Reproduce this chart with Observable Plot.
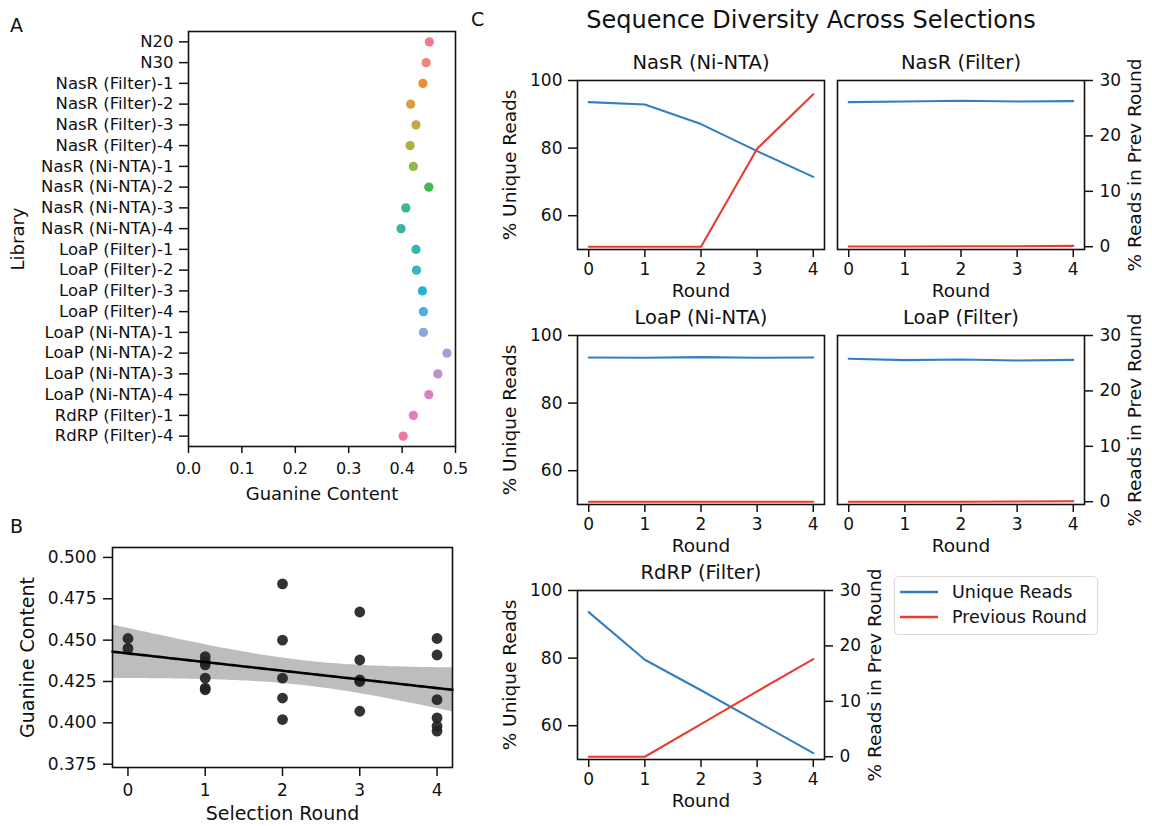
<!DOCTYPE html>
<html><head><meta charset="utf-8">
<script src="https://cdn.jsdelivr.net/npm/d3@7"></script>
<script src="https://cdn.jsdelivr.net/npm/@observablehq/plot@0.6"></script>
<style>
body{margin:0;background:#fff;}
#fig{position:relative;width:1152px;height:826px;overflow:hidden;background:#fff;font-family:"DejaVu Sans",sans-serif;color:#111;}
#fig svg{position:absolute;overflow:visible;max-width:none;}
.letter{position:absolute;font-size:19px;line-height:1;}
.suptitle{position:absolute;font-size:24px;line-height:1;white-space:nowrap;transform:translateX(-50%);}
</style></head><body><div id="fig"></div>
<script>
// ---------- Panel A data ----------
const libraries = ["N20","N30","NasR (Filter)-1","NasR (Filter)-2","NasR (Filter)-3","NasR (Filter)-4",
  "NasR (Ni-NTA)-1","NasR (Ni-NTA)-2","NasR (Ni-NTA)-3","NasR (Ni-NTA)-4",
  "LoaP (Filter)-1","LoaP (Filter)-2","LoaP (Filter)-3","LoaP (Filter)-4",
  "LoaP (Ni-NTA)-1","LoaP (Ni-NTA)-2","LoaP (Ni-NTA)-3","LoaP (Ni-NTA)-4",
  "RdRP (Filter)-1","RdRP (Filter)-4"];
const guanine = [0.451,0.445,0.439,0.416,0.426,0.415,0.421,0.450,0.407,0.398,
  0.426,0.427,0.438,0.440,0.440,0.484,0.467,0.450,0.421,0.402];
const libColors = ["#f27a8e","#f08777","#eb8e36","#d5a03e","#c2a843","#abb042","#8fb845","#3fba4c","#3fb887","#35b4a2",
  "#37b4ae","#3ab3bc","#27b4d4","#4cade8","#8fa6da","#ab9bd8","#c390cd","#d382c4","#e87bbd","#f175a6"];
const xTicksA = [0,0.1,0.2,0.3,0.4,0.5];

// ---------- Panel B data ----------
const roundB = [0,0, 1,1,1,1,1,1, 2,2,2,2,2, 3,3,3,3,3, 4,4,4,4,4,4];
const guanineB = [0.451,0.445, 0.440,0.437,0.435,0.427,0.421,0.420, 0.484,0.450,0.427,0.415,0.402,
  0.467,0.438,0.426,0.425,0.407, 0.451,0.441,0.414,0.403,0.398,0.395];
const yTicksB = [0.375,0.400,0.425,0.450,0.475,0.500];
const xTicksB = [0,1,2,3,4];

// ---------- Panel C data ----------
const rounds = [0,1,2,3,4];
const uniqueNasRNiNTA = [93.6,92.9,87.1,79.1,71.5];
const prevNasRNiNTA   = [0,0,0,17.7,27.5];
const uniqueNasRFilter = [93.6,93.8,94.0,93.8,93.9];
const prevNasRFilter   = [0.05,0.05,0.1,0.1,0.15];
const uniqueLoaPNiNTA = [93.5,93.4,93.6,93.4,93.5];
const prevLoaPNiNTA   = [0,0,0,0,0];
const uniqueLoaPFilter = [93.1,92.7,92.9,92.6,92.8];
const prevLoaPFilter   = [0,0,0,0.05,0.1];
const uniqueRdRPFilter = [93.6,79.5,70.5,61.2,51.9];
const prevRdRPFilter   = [0,0,5.9,11.8,17.6];
const leftTicksC = [60,80,100];
const rightTicksC = [0,10,20,30];

const FONT = "DejaVu Sans";
const BLUE = "#337fc1", RED = "#ec3a2e";
const fig = document.getElementById("fig");
function place(svg, left, top){ svg.style.left = left+"px"; svg.style.top = top+"px"; fig.appendChild(svg); }
function addDiv(cls, text, left, top){ const d=document.createElement("div"); d.className=cls; d.textContent=text; d.style.left=left+"px"; d.style.top=top+"px"; fig.appendChild(d); }

// ---------- Panel A ----------
{
  const W=470,H=510;
  const svg = Plot.plot({
    width:W, height:H, marginLeft:188, marginRight:15, marginTop:31, marginBottom:64,
    style:{background:"transparent", fontFamily:FONT, fontSize:"16px", color:"#111"},
    x:{domain:[0,0.5], axis:null},
    y:{type:"point", domain:libraries, padding:0.5, round:false, axis:null},
    color:{type:"identity"},
    marks:[
      Plot.dot(libraries,{x:guanine, y:libraries, fill:libColors, r:4.6}),
      Plot.frame({stroke:"#111", strokeWidth:1.6}),
      Plot.axisX({ticks:xTicksA, tickFormat:d3.format(".1f"), tickSize:7, tickPadding:9, fontSize:16, strokeWidth:1.5, label:null}),
      Plot.axisY({tickSize:9, tickPadding:6, fontSize:16.5, strokeWidth:1.5, label:null}),
      Plot.text(["Guanine Content"],{frameAnchor:"bottom", dy:48, fontSize:18, lineAnchor:"middle"}),
      Plot.text(["Library"],{frameAnchor:"left", dx:-170, rotate:-90, fontSize:18, textAnchor:"middle", lineAnchor:"middle"})
    ]
  });
  place(svg,0,0);
}

// ---------- Panel B ----------
{
  const n = roundB.length;
  const mx = d3.mean(roundB), my = d3.mean(guanineB);
  const sxx = d3.sum(roundB, x => (x-mx)**2);
  const sxy = d3.sum(roundB.map((x,i) => (x-mx)*(guanineB[i]-my)));
  const b = sxy/sxx, a = my - b*mx;
  const s = Math.sqrt(d3.sum(roundB.map((x,i) => (guanineB[i]-(a+b*x))**2))/(n-2));
  const grid = d3.range(-0.2, 4.2001, 0.05).map(x => {
    const fit = a+b*x, se = s*Math.sqrt(1/n + (x-mx)**2/sxx);
    return {x, fit, lo: fit-1.72*se, hi: fit+1.72*se};
  });
  const W=470,H=326;
  const svg = Plot.plot({
    width:W, height:H, marginLeft:112, marginRight:18, marginTop:47, marginBottom:59,
    style:{background:"transparent", fontFamily:FONT, fontSize:"17px", color:"#111"},
    x:{domain:[-0.2,4.2], axis:null},
    y:{domain:[0.373,0.506], axis:null},
    marks:[
      Plot.areaY(grid,{x:"x", y1:"lo", y2:"hi", fill:"#bdbdbd"}),
      Plot.dot(roundB.map((r,i)=>i),{x:roundB, y:guanineB, r:5.4, fill:"#222", fillOpacity:0.92}),
      Plot.line(grid,{x:"x", y:"fit", stroke:"#000", strokeWidth:2.6}),
      Plot.frame({stroke:"#111", strokeWidth:1.6}),
      Plot.axisX({ticks:xTicksB, tickFormat:"d", tickSize:9, tickPadding:7, fontSize:17, strokeWidth:1.5, label:null}),
      Plot.axisY({ticks:yTicksB, tickFormat:d3.format(".3f"), tickSize:9, tickPadding:7, fontSize:17, strokeWidth:1.5, label:null}),
      Plot.text(["Selection Round"],{frameAnchor:"bottom", dy:46, fontSize:19, lineAnchor:"middle"}),
      Plot.text(["Guanine Content"],{frameAnchor:"left", dx:-85, rotate:-90, fontSize:19, textAnchor:"middle", lineAnchor:"middle"})
    ]
  });
  place(svg,0,500);
}

// ---------- Panel C ----------
function cPanel(title, unique, prev, boxLeft, boxTop, showLeft, showRight){
  const BW=247, BH=169, mL=80, mR=80, mT=40, mB=60;
  const common = {width:BW+mL+mR, height:BH+mT+mB, marginLeft:mL, marginRight:mR, marginTop:mT, marginBottom:mB,
    style:{background:"transparent", fontFamily:FONT, fontSize:"17px", color:"#111"}};
  const svg1 = Plot.plot({
    ...common,
    x:{domain:[-0.2,4.2], axis:null},
    y:{domain:[50,100], axis:null},
    marks:[
      Plot.line(rounds,{x:rounds, y:unique, stroke:BLUE, strokeWidth:2.1}),
      Plot.frame({stroke:"#111", strokeWidth:1.6}),
      Plot.axisX({ticks:rounds, tickFormat:"d", tickSize:8, tickPadding:5, fontSize:17, strokeWidth:1.5, label:null}),
      showLeft ? Plot.axisY({ticks:leftTicksC, tickSize:9, tickPadding:6, fontSize:17, strokeWidth:1.5, label:null}) : null,
      Plot.text([title],{frameAnchor:"top", dy:-12, fontSize:19.5, lineAnchor:"bottom"}),
      Plot.text(["Round"],{frameAnchor:"bottom", dy:42, fontSize:18.5, lineAnchor:"middle"}),
      showLeft ? Plot.text(["% Unique Reads"],{frameAnchor:"left", dx:-67, rotate:-90, fontSize:18.5, textAnchor:"middle", lineAnchor:"middle"}) : null
    ]
  });
  const svg2 = Plot.plot({
    ...common,
    x:{domain:[-0.2,4.2], axis:null},
    y:{domain:[-0.5,30], axis:null},
    marks:[
      Plot.line(rounds,{x:rounds, y:prev, stroke:RED, strokeWidth:2.1}),
      showRight ? Plot.axisY({anchor:"right", ticks:rightTicksC, tickSize:8, tickPadding:7, fontSize:17, strokeWidth:1.5, label:null}) : null,
      showRight ? Plot.text(["% Reads in Prev Round"],{frameAnchor:"right", dx:51, rotate:-90, fontSize:18.5, textAnchor:"middle", lineAnchor:"middle"}) : null
    ]
  });
  place(svg1, boxLeft-mL, boxTop-mT);
  place(svg2, boxLeft-mL, boxTop-mT);
}
cPanel("NasR (Ni-NTA)", uniqueNasRNiNTA, prevNasRNiNTA, 577, 80, true, false);
cPanel("NasR (Filter)", uniqueNasRFilter, prevNasRFilter, 837, 80, false, true);
cPanel("LoaP (Ni-NTA)", uniqueLoaPNiNTA, prevLoaPNiNTA, 577, 335, true, false);
cPanel("LoaP (Filter)", uniqueLoaPFilter, prevLoaPFilter, 837, 335, false, true);
cPanel("RdRP (Filter)", uniqueRdRPFilter, prevRdRPFilter, 577, 590, true, true);

// ---------- Legend ----------
{
  const items = [{label:"Unique Reads", color:BLUE},{label:"Previous Round", color:RED}];
  const svg = d3.create("svg").attr("width",204).attr("height",59).attr("font-family",FONT).node();
  const g = d3.select(svg);
  g.append("rect").attr("x",0.5).attr("y",0.5).attr("width",203).attr("height",58).attr("rx",4)
    .attr("fill","#fff").attr("stroke","#d8d8d8");
  items.forEach((it,i)=>{
    const y = 16 + i*25;
    g.append("line").attr("x1",6).attr("x2",44).attr("y1",y).attr("y2",y).attr("stroke",it.color).attr("stroke-width",2.4);
    g.append("text").attr("x",58).attr("y",y).attr("dy","0.35em").attr("font-size",17.5).attr("fill","#111").text(it.label);
  });
  place(svg, 894, 576);
}

addDiv("letter","A",10,16);
addDiv("letter","B",10,517);
addDiv("letter","C",471,10);
addDiv("suptitle","Sequence Diversity Across Selections",811,8);
</script></body></html>
